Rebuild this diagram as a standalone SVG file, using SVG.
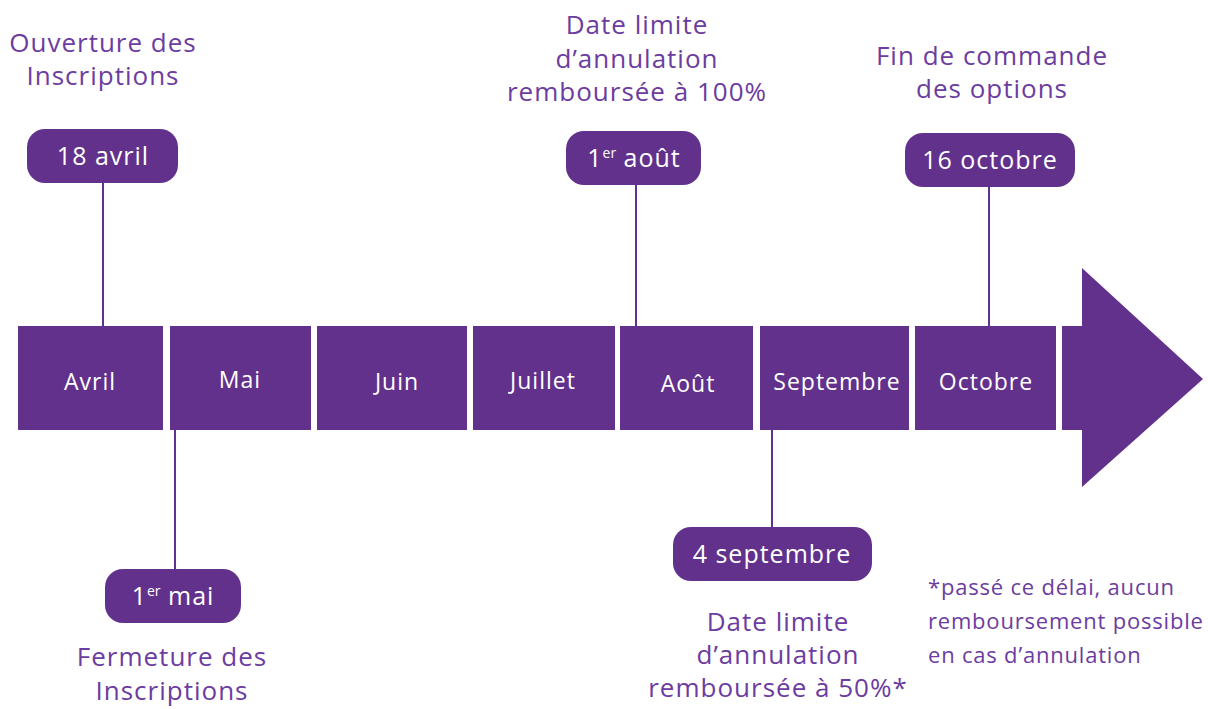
<svg xmlns="http://www.w3.org/2000/svg" width="1208" height="709" viewBox="0 0 1208 709">
<style>
.bar{fill:#62318c}
.pill{fill:#62318c}
.line{stroke:#62318c;stroke-width:2;fill:none}
.month{font-family:"Open Sans","Liberation Sans",sans-serif;font-size:23px;letter-spacing:1px;fill:#ffffff;text-anchor:middle}
.date{font-family:"Open Sans","Liberation Sans",sans-serif;font-size:25px;letter-spacing:1px;fill:#ffffff;text-anchor:middle}
.lbl{font-family:"Open Sans","Liberation Sans",sans-serif;font-size:26px;letter-spacing:1px;fill:#6c3ca0;text-anchor:middle}
.note{font-family:"Open Sans","Liberation Sans",sans-serif;font-size:22px;letter-spacing:0.8px;fill:#6c3ca0}
.sup{font-size:14px;letter-spacing:0}
</style>
<rect width="1208" height="709" fill="#ffffff"/>
<g id="connectors">
<line class="line" x1="103" y1="183" x2="103" y2="326"/>
<line class="line" x1="175" y1="430" x2="175" y2="570"/>
<line class="line" x1="636" y1="185" x2="636" y2="326"/>
<line class="line" x1="772" y1="430" x2="772" y2="528"/>
<line class="line" x1="989" y1="187" x2="989" y2="326"/>
</g>
<g id="timeline">
<g id="m-avril"><rect class="bar" x="18" y="326" width="145" height="104"/><text class="month" x="90" y="390">Avril</text></g>
<g id="m-mai"><rect class="bar" x="170" y="326" width="141" height="104"/><text class="month" x="240" y="388">Mai</text></g>
<g id="m-juin"><rect class="bar" x="317" y="326" width="150" height="104"/><text class="month" x="397" y="390">Juin</text></g>
<g id="m-juillet"><rect class="bar" x="473" y="326" width="142" height="104"/><text class="month" x="543" y="389">Juillet</text></g>
<g id="m-aout"><rect class="bar" x="620" y="326" width="133" height="104"/><text class="month" x="688" y="392">Août</text></g>
<g id="m-septembre"><rect class="bar" x="760" y="326" width="149" height="104"/><text class="month" x="837" y="390">Septembre</text></g>
<g id="m-octobre"><rect class="bar" x="915" y="326" width="141" height="104"/><text class="month" x="986" y="390">Octobre</text></g>
<g id="arrow"><polygon class="bar" points="1062,326 1082,326 1082,268 1203,379 1082,487 1082,430 1062,430"/></g>
</g>
<g id="ev-18avril">
<rect class="pill" x="27" y="129" width="151" height="54" rx="18"/>
<text class="date" x="103" y="165">18 avril</text>
<text class="lbl"><tspan x="103" y="52">Ouverture des</tspan><tspan x="103" y="85">Inscriptions</tspan></text>
</g>
<g id="ev-1mai">
<rect class="pill" x="105" y="569" width="136" height="54" rx="18"/>
<text class="date" x="173" y="605">1<tspan class="sup" dy="-9">er</tspan><tspan dy="9"> mai</tspan></text>
<text class="lbl"><tspan x="172" y="666">Fermeture des</tspan><tspan x="172" y="700">Inscriptions</tspan></text>
</g>
<g id="ev-1aout">
<rect class="pill" x="566" y="131" width="135" height="54" rx="18"/>
<text class="date" x="634" y="167">1<tspan class="sup" dy="-9">er</tspan><tspan dy="9"> août</tspan></text>
<text class="lbl"><tspan x="637" y="34">Date limite</tspan><tspan x="637" y="68">d’annulation</tspan><tspan x="637" y="101">remboursée à 100%</tspan></text>
</g>
<g id="ev-4sept">
<rect class="pill" x="673" y="527" width="199" height="54" rx="18"/>
<text class="date" x="772" y="563">4 septembre</text>
<text class="lbl"><tspan x="778" y="631">Date limite</tspan><tspan x="778" y="664">d’annulation</tspan><tspan x="778" y="697">remboursée à 50%*</tspan></text>
</g>
<g id="ev-16oct">
<rect class="pill" x="905" y="133" width="170" height="54" rx="18"/>
<text class="date" x="990" y="169">16 octobre</text>
<text class="lbl"><tspan x="992" y="65">Fin de commande</tspan><tspan x="992" y="98">des options</tspan></text>
</g>
<g id="footnote">
<text class="note"><tspan x="928" y="595">*passé ce délai, aucun</tspan><tspan x="928" y="629">remboursement possible</tspan><tspan x="928" y="663">en cas d’annulation</tspan></text>
</g>
</svg>
